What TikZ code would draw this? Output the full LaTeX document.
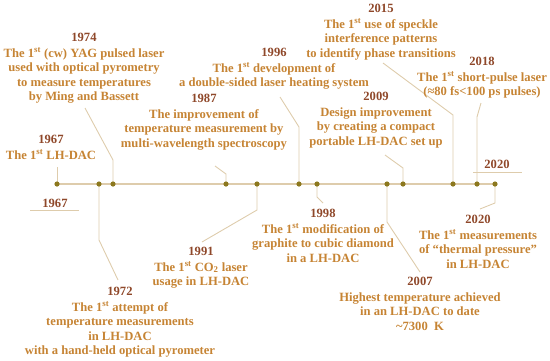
\documentclass[tikz,border=0pt]{standalone}
\usepackage{fontspec}
\setmainfont{Liberation Serif}
\definecolor{linec}{RGB}{222,204,172}
\definecolor{dotc}{RGB}{140,120,30}
\definecolor{yearc}{RGB}{143,72,42}
\definecolor{bodyc}{RGB}{198,132,52}
\tikzset{
  txt/.style={align=center, inner sep=0pt, anchor=north, text=bodyc,
    font=\fontsize{12.6}{14.6}\selectfont\bfseries},
  yr/.style={inner sep=0pt, text=yearc, font=\fontsize{12.6}{14.6}\selectfont\bfseries},
  dotn/.style={circle, fill=dotc, inner sep=0pt, minimum size=5.2pt},
  conn/.style={draw=linec, line width=0.9pt},
  mainline/.style={draw=linec, line width=1.4pt},
}
\newcommand{\yy}[1]{\textcolor{yearc}{#1}\\[1pt]}
\newcommand{\st}{\textsuperscript{st}}
\begin{document}
\begin{tikzpicture}[x=1pt,y=-1pt]
\useasboundingbox (0,0) rectangle (550,360);
% dots
\foreach \n/\x in {d67/57,d72/99,d74/113,d87/226,d91/257,d96/299,d98/317,d07/387,d09/403,d15/453,d18/477,d20/495}
  \coordinate (\n) at (\x,184);
\draw[mainline] (d67) -- (d20);
% connector bend and end points
\coordinate (e67) at (57,167);
\coordinate (b72) at (99,240); \coordinate (e72) at (118,280);
\coordinate (b74) at (113,160); \coordinate (e74) at (85,108);
\coordinate (b87) at (226,174); \coordinate (e87) at (215,166);
\coordinate (b91) at (257,210); \coordinate (e91) at (202,242);
\coordinate (b96) at (299,127); \coordinate (e96) at (280,97);
\coordinate (b98) at (317,197); \coordinate (e98) at (323,203);
\coordinate (b07) at (387,222); \coordinate (e07) at (420,272);
\coordinate (b09) at (403,168); \coordinate (e09) at (385,155);
\coordinate (b15) at (453,115); \coordinate (e15) at (383,63);
\coordinate (b18) at (477,117); \coordinate (e18) at (481,103);
\coordinate (b20) at (495,203); \coordinate (e20) at (480,209);
\draw[conn] (d67) -- (e67);
\draw[conn] (d72) -- (b72) -- (e72);
\draw[conn] (d74) -- (b74) -- (e74);
\draw[conn] (d87) -- (b87) -- (e87);
\draw[conn] (d91) -- (b91) -- (e91);
\draw[conn] (d96) -- (b96) -- (e96);
\draw[conn] (d98) -- (b98) -- (e98);
\draw[conn] (d07) -- (b07) -- (e07);
\draw[conn] (d09) -- (b09) -- (e09);
\draw[conn] (d15) -- (b15) -- (e15);
\draw[conn] (d18) -- (b18) -- (e18);
\draw[conn] (d20) -- (b20) -- (e20);
\foreach \n in {d67,d72,d74,d87,d91,d96,d98,d07,d09,d15,d18,d20}
  \node[dotn] (p\n) at (\n) {};
% end labels
\node[yr] (s67) at (55,203) {1967};
\coordinate (s67a) at (30,210); \coordinate (s67b) at (79,210);
\draw[conn] (s67a) -- (s67b);
\node[yr] (s20) at (497,164) {2020};
\coordinate (s20a) at (473,172); \coordinate (s20b) at (522,172);
\draw[conn] (s20a) -- (s20b);
% text blocks
\node[txt] (t67) at (51,135) {\yy{1967}The 1\st{} LH-DAC};
\node[txt] (t74) at (84,33) {\yy{1974}The 1\st{} (cw) YAG pulsed laser\\used with optical pyrometry\\to measure temperatures\\by Ming and Bassett};
\node[txt] (t87) at (204,94) {\yy{1987}The improvement of\\temperature measurement by\\multi-wavelength spectroscopy};
\node[txt] (t96) at (274,48) {\yy{1996}The 1\st{} development of\\a double-sided laser heating system};
\node[txt] (t15) at (381,4) {\yy{2015}The 1\st{} use of speckle\\interference patterns\\to identify phase transitions};
\node[txt] (t18) at (482,57) {\yy{2018}The 1\st{} short-pulse laser\\(≈80 fs<100 ps pulses)};
\node[txt] (t09) at (376,92) {\yy{2009}Design improvement\\by creating a compact\\portable LH-DAC set up};
\node[txt] (t91) at (201,247) {\yy{1991}The 1\st{} CO\textsubscript{2} laser\\usage in LH-DAC};
\node[txt] (t72) at (120,287) {\yy{1972}The 1\st{} attempt of\\temperature measurements\\in LH-DAC\\with a hand-held optical pyrometer};
\node[txt] (t98) at (323,209) {\yy{1998}The 1\st{} modification of\\graphite to cubic diamond\\in a LH-DAC};
\node[txt] (t20) at (478,215) {\yy{2020}The 1\st{} measurements\\of “thermal pressure”\\in LH-DAC};
\node[txt] (t07) at (420,277) {\yy{2007}Highest temperature achieved\\in an LH-DAC to date\\\textasciitilde7300\ \ K};
\end{tikzpicture}
\end{document}
